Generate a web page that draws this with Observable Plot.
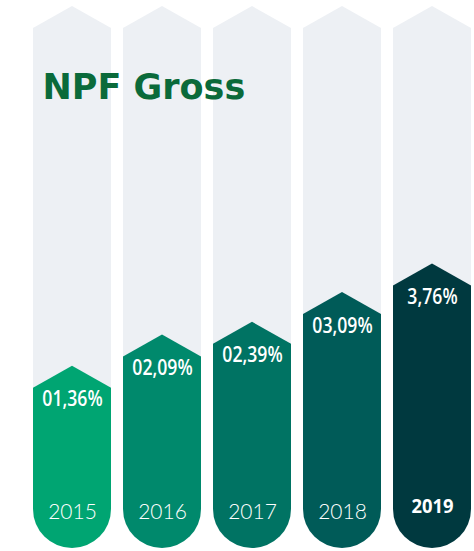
<!DOCTYPE html>
<html>
<head>
<meta charset="utf-8">
<script src="https://cdn.jsdelivr.net/npm/d3@7"></script>
<script src="https://cdn.jsdelivr.net/npm/@observablehq/plot@0.6"></script>
<style>
  html, body { margin: 0; padding: 0; background: #ffffff; }
  #chart svg { display: block; }
</style>
</head>
<body>
<div id="chart"></div>
<script>
// ---- data ----
const years = ["2015", "2016", "2017", "2018", "2019"];
const npfGross = [1.36, 2.09, 2.39, 3.09, 3.76];
const valueLabels = ["01,36%", "02,09%", "02,39%", "03,09%", "3,76%"];
const highlightYear = "2019";
const title = "NPF Gross";

// ---- style ----
const palette = ["#00a572", "#00896c", "#007363", "#005b58", "#00393f"];
const trackColor = "#edf0f4";
const yMin = -2.4, yMax = 9.8;
const tip = 22;

const data = years.map((year, i) => ({year, value: npfGross[i], label: valueLabels[i]}));

function arrowColumns(getTop, fillFor) {
  return function(index, scales) {
    const xs = scales.x;
    const bw = typeof xs.bandwidth === "function" ? xs.bandwidth() : scales.scales.x.bandwidth;
    const g = d3.create("svg:g");
    const bot = scales.y(yMin);
    for (const i of index) {
      const d = data[i];
      const x0 = xs(d.year), w = bw, r = w / 2;
      const top = scales.y(getTop(d));
      const path = `M${x0},${top}L${x0 + w / 2},${top - tip}L${x0 + w},${top}L${x0 + w},${bot - r}` +
        `A${r},${r} 0 0 1 ${x0},${bot - r}Z`;
      g.append("path").attr("d", path).attr("fill", fillFor(d, i));
    }
    return g.node();
  };
}

// horizontally condense rendered text (narrow typeface look)
function condense(k) {
  return function(index, scales, values, dimensions, context, next) {
    const g = next(index, scales, values, dimensions, context);
    d3.select(g).selectAll("text").each(function() {
      const t = this.getAttribute("transform") || "";
      const x = +this.getAttribute("x") || 0, y = +this.getAttribute("y") || 0;
      this.removeAttribute("x"); this.removeAttribute("y");
      this.setAttribute("transform", `${t} translate(${x},${y}) scale(${k},1)`);
    });
    return g;
  };
}

const chart = Plot.plot({
  width: 474,
  height: 551,
  marginLeft: 32,
  marginRight: 1,
  marginTop: 28,
  marginBottom: 3,
  x: {type: "band", domain: years, paddingInner: 0.132, paddingOuter: 0, axis: null},
  y: {domain: [yMin, yMax], axis: null},
  marks: [
    Plot.barY(data, {x: "year", y1: yMin, y2: yMax, fill: trackColor,
      render: arrowColumns(() => yMax, () => trackColor)}),
    Plot.barY(data, {x: "year", y1: yMin, y2: "value",
      render: arrowColumns(d => d.value, (d, i) => palette[i])}),
    Plot.text(data, {x: "year", y: "value", text: "label", dy: 18, fill: "white",
      fontFamily: "'Open Sans', sans-serif", fontWeight: 600, fontSize: 21,
      lineAnchor: "middle", render: condense(0.84)}),
    Plot.text(data.filter(d => d.year !== highlightYear), {x: "year", text: "year", frameAnchor: "bottom", dy: -36,
      fill: "white", fontFamily: "Lato, sans-serif", fontSize: 21, lineAnchor: "middle", fontWeight: 300}),
    Plot.text(data.filter(d => d.year === highlightYear), {x: "year", text: "year", frameAnchor: "bottom", dy: -36,
      fill: "white", fontFamily: "'Open Sans', sans-serif", fontSize: 20, lineAnchor: "middle", fontWeight: 700,
      render: condense(0.92)}),
    Plot.text([title], {text: d => d, frameAnchor: "top-left", dx: 10, dy: 59, textAnchor: "start",
      lineAnchor: "middle", fill: "#0a6a3a", fontFamily: "'DejaVu Sans', sans-serif",
      fontWeight: 700, fontSize: 35})
  ]
});

document.getElementById("chart").appendChild(chart);
</script>
</body>
</html>
